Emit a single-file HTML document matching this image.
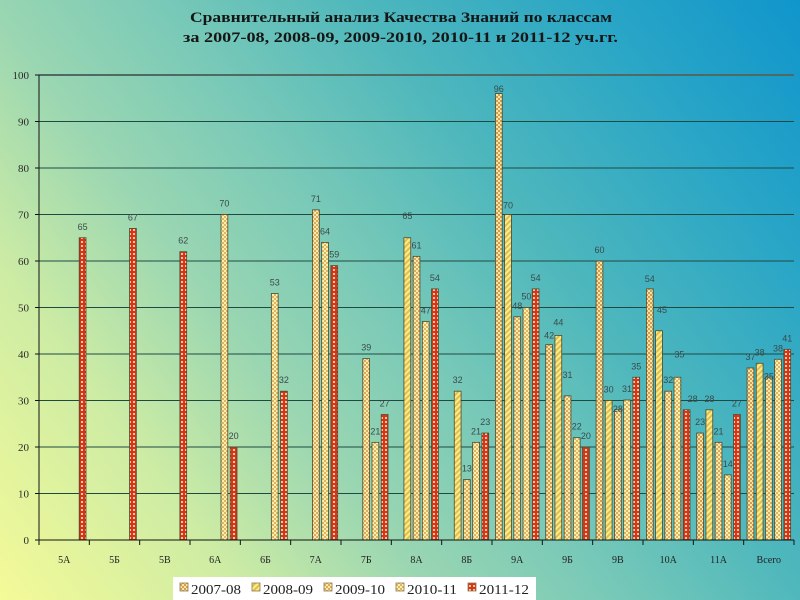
<!DOCTYPE html>
<html><head><meta charset="utf-8"><style>
html,body{margin:0;padding:0;width:800px;height:600px;overflow:hidden;}
svg{display:block;}
</style></head><body>
<svg width="800" height="600" viewBox="0 0 800 600" xmlns="http://www.w3.org/2000/svg">
<defs>
<linearGradient id="bg" gradientUnits="userSpaceOnUse" x1="0" y1="600" x2="800" y2="0">
<stop offset="0" stop-color="#f4fa98"/>
<stop offset="0.2" stop-color="#cdeca4"/>
<stop offset="0.35" stop-color="#9ad6b2"/>
<stop offset="0.5" stop-color="#76c8b8"/>
<stop offset="0.64" stop-color="#50b8bc"/>
<stop offset="0.83" stop-color="#2aa6c6"/>
<stop offset="1" stop-color="#1096cc"/>
</linearGradient>
<pattern id="p0" width="4" height="4" patternUnits="userSpaceOnUse"><rect width="4" height="4" fill="#f6e6a4"/><rect width="2" height="2" fill="#d89c50"/><rect x="2" y="2" width="2" height="2" fill="#d89c50"/></pattern>
<pattern id="p1" width="4" height="4" patternUnits="userSpaceOnUse" patternTransform="rotate(45)"><rect width="4" height="4" fill="#faee84"/><rect width="2" height="4" fill="#e2bc56"/></pattern>
<pattern id="p2" width="4" height="4" patternUnits="userSpaceOnUse"><rect width="4" height="4" fill="#f8eaa8"/><rect width="2" height="2" fill="#dcaa5c"/><rect x="2" y="2" width="2" height="2" fill="#dcaa5c"/></pattern>
<pattern id="p3" width="4" height="4" patternUnits="userSpaceOnUse"><rect width="4" height="4" fill="#faf0ac"/><rect width="2" height="2" fill="#e0b462"/><rect x="2" y="2" width="2" height="2" fill="#e0b462"/></pattern>
<pattern id="p4" width="4" height="4" patternUnits="userSpaceOnUse"><rect width="4" height="4" fill="#d83418"/><rect x="1" y="1" width="2" height="2" fill="#f6c8a0"/></pattern>
</defs>
<rect width="800" height="600" fill="url(#bg)"/>

<!-- Title -->
<g font-family="Liberation Serif, serif" font-weight="bold" font-size="15" fill="#161616" text-anchor="start">
<text x="190" y="22" textLength="422" lengthAdjust="spacingAndGlyphs">Сравнительный анализ Качества Знаний по классам</text>
<text x="183" y="42" textLength="435" lengthAdjust="spacingAndGlyphs">за 2007-08, 2008-09, 2009-2010, 2010-11 и 2011-12 уч.гг.</text>
</g>

<!-- Gridlines -->
<g stroke="#1f4a42" stroke-width="1">
<line x1="39" y1="493.5" x2="794" y2="493.5"/>
<line x1="39" y1="447" x2="794" y2="447"/>
<line x1="39" y1="400.5" x2="794" y2="400.5"/>
<line x1="39" y1="354" x2="794" y2="354"/>
<line x1="39" y1="307.5" x2="794" y2="307.5"/>
<line x1="39" y1="261" x2="794" y2="261"/>
<line x1="39" y1="214.5" x2="794" y2="214.5"/>
<line x1="39" y1="168" x2="794" y2="168"/>
<line x1="39" y1="121.5" x2="794" y2="121.5"/>
</g>
<line x1="39" y1="75" x2="794" y2="75" stroke="#4e6a62" stroke-width="2"/>

<!-- Y ticks and labels -->
<g stroke="#111" stroke-width="1">
<line x1="35" y1="540" x2="39" y2="540"/><line x1="35" y1="493.5" x2="39" y2="493.5"/><line x1="35" y1="447" x2="39" y2="447"/><line x1="35" y1="400.5" x2="39" y2="400.5"/><line x1="35" y1="354" x2="39" y2="354"/><line x1="35" y1="307.5" x2="39" y2="307.5"/><line x1="35" y1="261" x2="39" y2="261"/><line x1="35" y1="214.5" x2="39" y2="214.5"/><line x1="35" y1="168" x2="39" y2="168"/><line x1="35" y1="121.5" x2="39" y2="121.5"/><line x1="35" y1="75" x2="39" y2="75"/>
</g>
<g font-family="Liberation Serif, serif" font-size="11" fill="#2a2a2a" text-anchor="end">
<text x="29" y="544">0</text><text x="29" y="497.5">10</text><text x="29" y="451">20</text><text x="29" y="404.5">30</text><text x="29" y="358">40</text><text x="29" y="311.5">50</text><text x="29" y="265">60</text><text x="29" y="218.5">70</text><text x="29" y="172">80</text><text x="29" y="125.5">90</text><text x="29" y="79">100</text>
</g>

<!-- Bars -->
<g stroke="#4a4a30" stroke-width="0.8">
<!-- 5А -->
<rect x="79.2" y="237.75" width="6.8" height="302.25" fill="url(#p4)"/>
<!-- 5Б -->
<rect x="129.53" y="228.45" width="6.8" height="311.55" fill="url(#p4)"/>
<!-- 5В -->
<rect x="179.87" y="251.7" width="6.8" height="288.3" fill="url(#p4)"/>
<!-- 6А -->
<rect x="221" y="214.5" width="6.8" height="325.5" fill="url(#p3)"/>
<rect x="230.2" y="447" width="6.8" height="93" fill="url(#p4)"/>
<!-- 6Б -->
<rect x="271.33" y="293.55" width="6.8" height="246.45" fill="url(#p3)"/>
<rect x="280.53" y="391.2" width="6.8" height="148.8" fill="url(#p4)"/>
<!-- 7А -->
<rect x="312.47" y="209.85" width="6.8" height="330.15" fill="url(#p2)"/>
<rect x="321.67" y="242.4" width="6.8" height="297.6" fill="url(#p3)"/>
<rect x="330.87" y="265.65" width="6.8" height="274.35" fill="url(#p4)"/>
<!-- 7Б -->
<rect x="362.8" y="358.65" width="6.8" height="181.35" fill="url(#p2)"/>
<rect x="372" y="442.35" width="6.8" height="97.65" fill="url(#p3)"/>
<rect x="381.2" y="414.45" width="6.8" height="125.55" fill="url(#p4)"/>
<!-- 8А -->
<rect x="403.93" y="237.75" width="6.8" height="302.25" fill="url(#p1)"/>
<rect x="413.13" y="256.35" width="6.8" height="283.65" fill="url(#p2)"/>
<rect x="422.33" y="321.45" width="6.8" height="218.55" fill="url(#p3)"/>
<rect x="431.53" y="288.9" width="6.8" height="251.1" fill="url(#p4)"/>
<!-- 8Б -->
<rect x="454.27" y="391.2" width="6.8" height="148.8" fill="url(#p1)"/>
<rect x="463.47" y="479.55" width="6.8" height="60.45" fill="url(#p2)"/>
<rect x="472.67" y="442.35" width="6.8" height="97.65" fill="url(#p3)"/>
<rect x="481.87" y="433.05" width="6.8" height="106.95" fill="url(#p4)"/>
<!-- 9А -->
<rect x="495.4" y="93.6" width="6.8" height="446.4" fill="url(#p0)"/>
<rect x="504.6" y="214.5" width="6.8" height="325.5" fill="url(#p1)"/>
<rect x="513.8" y="316.8" width="6.8" height="223.2" fill="url(#p2)"/>
<rect x="523" y="307.5" width="6.8" height="232.5" fill="url(#p3)"/>
<rect x="532.2" y="288.9" width="6.8" height="251.1" fill="url(#p4)"/>
<!-- 9Б -->
<rect x="545.73" y="344.7" width="6.8" height="195.3" fill="url(#p0)"/>
<rect x="554.93" y="335.4" width="6.8" height="204.6" fill="url(#p1)"/>
<rect x="564.13" y="395.85" width="6.8" height="144.15" fill="url(#p2)"/>
<rect x="573.33" y="437.7" width="6.8" height="102.3" fill="url(#p3)"/>
<rect x="582.53" y="447" width="6.8" height="93" fill="url(#p4)"/>
<!-- 9В -->
<rect x="596.07" y="261" width="6.8" height="279" fill="url(#p0)"/>
<rect x="605.27" y="400.5" width="6.8" height="139.5" fill="url(#p1)"/>
<rect x="614.47" y="409.8" width="6.8" height="130.2" fill="url(#p2)"/>
<rect x="623.67" y="400" width="6.8" height="140" fill="url(#p3)"/>
<rect x="632.87" y="377.25" width="6.8" height="162.75" fill="url(#p4)"/>
<!-- 10А -->
<rect x="646.4" y="288.9" width="6.8" height="251.1" fill="url(#p0)"/>
<rect x="655.6" y="330.75" width="6.8" height="209.25" fill="url(#p1)"/>
<rect x="664.8" y="391.2" width="6.8" height="148.8" fill="url(#p2)"/>
<rect x="674" y="377.25" width="6.8" height="162.75" fill="url(#p3)"/>
<rect x="683.2" y="409.8" width="6.8" height="130.2" fill="url(#p4)"/>
<!-- 11А -->
<rect x="696.73" y="433.05" width="6.8" height="106.95" fill="url(#p0)"/>
<rect x="705.93" y="409.8" width="6.8" height="130.2" fill="url(#p1)"/>
<rect x="715.13" y="442.35" width="6.8" height="97.65" fill="url(#p2)"/>
<rect x="724.33" y="474.9" width="6.8" height="65.1" fill="url(#p3)"/>
<rect x="733.53" y="414.45" width="6.8" height="125.55" fill="url(#p4)"/>
<!-- Всего -->
<rect x="747.07" y="367.95" width="6.8" height="172.05" fill="url(#p0)"/>
<rect x="756.27" y="363.3" width="6.8" height="176.7" fill="url(#p1)"/>
<rect x="765.47" y="377.25" width="6.8" height="162.75" fill="url(#p2)"/>
<rect x="774.67" y="359.3" width="6.8" height="180.7" fill="url(#p3)"/>
<rect x="783.87" y="349.35" width="6.8" height="190.65" fill="url(#p4)"/>
</g>

<!-- Axes -->
<line x1="39" y1="75" x2="39" y2="540" stroke="#111" stroke-width="1"/>
<line x1="39" y1="540" x2="794" y2="540" stroke="#111" stroke-width="1"/>
<g stroke="#111" stroke-width="1">
<line x1="39" y1="540" x2="39" y2="545"/><line x1="89.33" y1="540" x2="89.33" y2="545"/><line x1="139.67" y1="540" x2="139.67" y2="545"/><line x1="190" y1="540" x2="190" y2="545"/><line x1="240.33" y1="540" x2="240.33" y2="545"/><line x1="290.67" y1="540" x2="290.67" y2="545"/><line x1="341" y1="540" x2="341" y2="545"/><line x1="391.33" y1="540" x2="391.33" y2="545"/><line x1="441.67" y1="540" x2="441.67" y2="545"/><line x1="492" y1="540" x2="492" y2="545"/><line x1="542.33" y1="540" x2="542.33" y2="545"/><line x1="592.67" y1="540" x2="592.67" y2="545"/><line x1="643" y1="540" x2="643" y2="545"/><line x1="693.33" y1="540" x2="693.33" y2="545"/><line x1="743.67" y1="540" x2="743.67" y2="545"/><line x1="794" y1="540" x2="794" y2="545"/>
</g>

<!-- Value labels -->
<g font-family="Liberation Sans, sans-serif" font-size="9" fill="#3a4a4a" text-anchor="middle">
<text x="82.6" y="229.75">65</text>
<text x="132.93" y="220.45">67</text>
<text x="183.27" y="243.7">62</text>
<text x="224.4" y="206.5">70</text>
<text x="233.6" y="439">20</text>
<text x="274.73" y="285.55">53</text>
<text x="283.93" y="383.2">32</text>
<text x="315.87" y="201.85">71</text>
<text x="325.07" y="234.4">64</text>
<text x="334.27" y="257.65">59</text>
<text x="366.2" y="350.65">39</text>
<text x="375.4" y="434.35">21</text>
<text x="384.6" y="406.45">27</text>
<text x="407.33" y="219">65</text>
<text x="416.53" y="248.35">61</text>
<text x="425.73" y="313.45">47</text>
<text x="434.93" y="280.9">54</text>
<text x="457.67" y="383.2">32</text>
<text x="466.87" y="471.55">13</text>
<text x="476.07" y="434.35">21</text>
<text x="485.27" y="425.05">23</text>
<text x="498.8" y="92">96</text>
<text x="508" y="208.5">70</text>
<text x="517.2" y="308.8">48</text>
<text x="526.4" y="299.5">50</text>
<text x="535.6" y="280.9">54</text>
<text x="549.13" y="338.7">42</text>
<text x="558.33" y="325.4">44</text>
<text x="567.53" y="377.85">31</text>
<text x="576.73" y="429.7">22</text>
<text x="585.93" y="439">20</text>
<text x="599.47" y="253">60</text>
<text x="608.67" y="392.5">30</text>
<text x="617.87" y="411.8">28</text>
<text x="627.07" y="392">31</text>
<text x="636.27" y="369.25">35</text>
<text x="649.8" y="281.9">54</text>
<text x="662" y="312.75">45</text>
<text x="668.2" y="383.2">32</text>
<text x="679.4" y="357.25">35</text>
<text x="692.6" y="401.8">28</text>
<text x="700.13" y="425.05">23</text>
<text x="709.33" y="401.8">28</text>
<text x="718.53" y="434.35">21</text>
<text x="727.73" y="466.9">14</text>
<text x="736.93" y="406.45">27</text>
<text x="750.47" y="359.95">37</text>
<text x="759.67" y="355.3">38</text>
<text x="768.87" y="379.25">35</text>
<text x="778.07" y="351.3">38</text>
<text x="787.27" y="341.35">41</text>
</g>

<!-- Category labels -->
<g font-family="Liberation Serif, serif" font-size="10" fill="#222" text-anchor="middle">
<text x="64.2" y="563">5А</text>
<text x="114.5" y="563">5Б</text>
<text x="164.8" y="563">5В</text>
<text x="215.2" y="563">6А</text>
<text x="265.5" y="563">6Б</text>
<text x="315.8" y="563">7А</text>
<text x="366.2" y="563">7Б</text>
<text x="416.5" y="563">8А</text>
<text x="466.8" y="563">8Б</text>
<text x="517.2" y="563">9А</text>
<text x="567.5" y="563">9Б</text>
<text x="617.8" y="563">9В</text>
<text x="668.2" y="563">10А</text>
<text x="718.5" y="563">11А</text>
<text x="768.8" y="563">Всего</text>
</g>

<!-- Legend -->
<rect x="173" y="577" width="363" height="23" fill="#ffffff"/>
<g stroke="#8a7a50" stroke-width="0.8">
<rect x="180" y="583" width="8" height="8" fill="url(#p0)"/>
<rect x="252" y="583" width="8" height="8" fill="url(#p1)"/>
<rect x="324" y="583" width="8" height="8" fill="url(#p2)"/>
<rect x="396" y="583" width="8" height="8" fill="url(#p3)"/>
<rect x="468" y="583" width="8" height="8" fill="url(#p4)"/>
</g>
<g font-family="Liberation Serif, serif" font-size="14" fill="#222">
<text x="191" y="594" textLength="50" lengthAdjust="spacingAndGlyphs">2007-08</text>
<text x="263" y="594" textLength="50" lengthAdjust="spacingAndGlyphs">2008-09</text>
<text x="335" y="594" textLength="50" lengthAdjust="spacingAndGlyphs">2009-10</text>
<text x="407" y="594" textLength="50" lengthAdjust="spacingAndGlyphs">2010-11</text>
<text x="479" y="594" textLength="50" lengthAdjust="spacingAndGlyphs">2011-12</text>
</g>
</svg>
</body></html>
